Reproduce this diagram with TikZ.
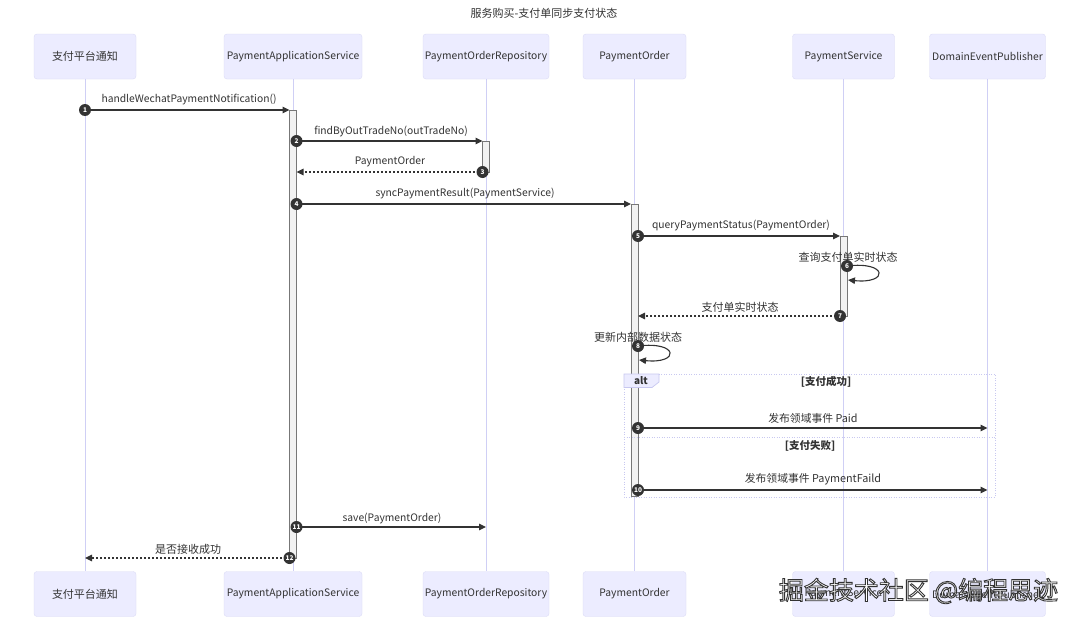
\documentclass[tikz,border=0pt]{standalone}
\usepackage{fontspec}
\setmainfont{Noto Sans CJK SC}
\usetikzlibrary{arrows.meta}
\definecolor{actfill}{HTML}{ECECFF}
\definecolor{actline}{HTML}{DCDCF6}
\definecolor{lifel}{HTML}{CFCFF5}
\definecolor{altline}{HTML}{C8C8F0}
\definecolor{txt}{HTML}{333333}
\definecolor{barfill}{HTML}{F2F2F2}
\definecolor{barline}{HTML}{777777}
\newcommand{\outlinedtext}[1]{\special{pdf:literal 0.2 G 2 Tr 0.9 w}#1\special{pdf:literal 0 Tr}}
\tikzset{
  actor/.style={draw=actline, fill=actfill, rounded corners=3pt, minimum height=45pt,
    text=txt, font=\fontsize{10.3}{13}\selectfont, inner sep=0pt},
  cjk/.style={font=\fontsize{11}{13}\selectfont},
  mixed/.style={font=\fontsize{10.8}{13}\selectfont},
  lifeline/.style={draw=lifel, line width=0.9pt},
  actbar/.style={draw=barline, fill=barfill, line width=0.6pt},
  msg/.style={draw=txt, line width=1.1pt, -{Triangle[length=7pt,width=6.5pt]}},
  reply/.style={msg, dash pattern=on 2pt off 2pt},
  lbl/.style={text=txt, font=\fontsize{10.3}{13}\selectfont, inner sep=0pt},
  seqnum/.style={circle, fill=txt, text=white, inner sep=0pt, minimum size=12pt,
    font=\fontsize{6.5}{7}\selectfont\bfseries},
  altbox/.style={draw=altline, line width=0.9pt, dash pattern=on 1pt off 1.5pt},
  wmark/.style={font=\fontsize{25}{25}\selectfont, inner sep=0pt, text=white},
}
\begin{document}
\begin{tikzpicture}[x=1pt,y=-1pt]
\fill[white] (0,0) rectangle (1080,624);
\useasboundingbox (0,0) rectangle (1080,624);

% title
\node[lbl, cjk] (title) at (544,13.5) {服务购买-支付单同步支付状态};

% participants top
\node[actor, cjk, minimum width=102pt] (t1) at (85,56.5) {支付平台通知};
\node[actor, minimum width=138pt] (t2) at (293,56.5) {PaymentApplicationService};
\node[actor, minimum width=126pt] (t3) at (486,56.5) {PaymentOrderRepository};
\node[actor, minimum width=103pt] (t4) at (634.5,56.5) {PaymentOrder};
\node[actor, minimum width=102pt] (t5) at (843.5,56.5) {PaymentService};
\node[actor, minimum width=116pt] (t6) at (987.5,56.5) {DomainEventPublisher};
% participants bottom
\node[actor, cjk, minimum width=102pt] (b1) at (85,594) {支付平台通知};
\node[actor, minimum width=138pt] (b2) at (293,594) {PaymentApplicationService};
\node[actor, minimum width=126pt] (b3) at (486,594) {PaymentOrderRepository};
\node[actor, minimum width=103pt] (b4) at (634.5,594) {PaymentOrder};
\node[actor, minimum width=102pt] (b5) at (843.5,594) {PaymentService};
\node[actor, minimum width=116pt] (b6) at (987.5,594) {DomainEventPublisher};

% lifelines
\foreach \i in {1,...,6} \draw[lifeline] (t\i.south) -- (b\i.north);

% activation bars
\draw[actbar] (289.5,110) rectangle (296.5,558);
\draw[actbar] (482.5,141) rectangle (489.5,172);
\draw[actbar] (631,204) rectangle (638,496);
\draw[actbar] (840,236) rectangle (847,316);

% alt frame
\draw[altbox] (624,374) rectangle (995,497);
\draw[altbox] (624,437.5) -- (995,437.5);
\draw[draw=altline, fill=actfill, line width=0.7pt] (624,374) -- (659,374) -- (659,382) -- (652,387.5) -- (624,387.5) -- cycle;
\node[lbl, font=\fontsize{10}{12}\selectfont\bfseries] (altlbl) at (641,381) {alt};
\node[lbl, font=\fontsize{10.5}{12}\selectfont\bfseries] (c1) at (826,382) {[支付成功]};
\node[lbl, font=\fontsize{10.5}{12}\selectfont\bfseries] (c2) at (810,446) {[支付失败]};

% endpoints
\coordinate (m1s) at (85,110);     \coordinate (m1e) at (289.5,110);
\coordinate (m2s) at (296.5,141);  \coordinate (m2e) at (482.5,141);
\coordinate (m3s) at (482.5,172);  \coordinate (m3e) at (296.5,172);
\coordinate (m4s) at (296.5,204);  \coordinate (m4e) at (631,204);
\coordinate (m5s) at (638,236);    \coordinate (m5e) at (840,236);
\coordinate (m6s) at (847,266);    \coordinate (m6e) at (848,280);
\coordinate (m7s) at (840,316);    \coordinate (m7e) at (638,316);
\coordinate (m8s) at (638,346);    \coordinate (m8e) at (639,360);
\coordinate (m9s) at (638,428);    \coordinate (m9e) at (987.5,428);
\coordinate (m10s) at (638,490);   \coordinate (m10e) at (987.5,490);
\coordinate (m11s) at (296.5,527); \coordinate (m11e) at (486,527);
\coordinate (m12s) at (289.5,558); \coordinate (m12e) at (85,558);

% messages
\draw[msg] (m1s) -- (m1e);
\draw[msg] (m2s) -- (m2e);
\draw[reply] (m3s) -- (m3e);
\draw[msg] (m4s) -- (m4e);
\draw[msg] (m5s) -- (m5e);
\draw[msg] (m6s) .. controls (888,261) and (889,284) .. (m6e);
\draw[reply] (m7s) -- (m7e);
\draw[msg] (m8s) .. controls (679,341) and (680,364) .. (m8e);
\draw[msg] (m9s) -- (m9e);
\draw[msg] (m10s) -- (m10e);
\draw[msg] (m11s) -- (m11e);
\draw[reply] (m12s) -- (m12e);

% labels
\node[lbl] (l1) at (189,99.5) {handleWechatPaymentNotification()};
\node[lbl] (l2) at (391,131) {findByOutTradeNo(outTradeNo)};
\node[lbl] (l3) at (390,162) {PaymentOrder};
\node[lbl] (l4) at (465,193.5) {syncPaymentResult(PaymentService)};
\node[lbl] (l5) at (741,225.5) {queryPaymentStatus(PaymentOrder)};
\node[lbl, cjk] (l6) at (848,257) {查询支付单实时状态};
\node[lbl, cjk] (l7) at (740,307) {支付单实时状态};
\node[lbl, cjk] (l8) at (638,337) {更新内部数据状态};
\node[lbl, mixed] (l9) at (813,418) {发布领域事件 Paid};
\node[lbl, mixed] (l10) at (813,479) {发布领域事件 PaymentFaild};
\node[lbl] (l11) at (392,518.5) {save(PaymentOrder)};
\node[lbl, cjk] (l12) at (188,549) {是否接收成功};

% sequence numbers
\node[seqnum] (n1) at (m1s) {1};
\node[seqnum] (n2) at (m2s) {2};
\node[seqnum] (n3) at (m3s) {3};
\node[seqnum] (n4) at (m4s) {4};
\node[seqnum] (n5) at (m5s) {5};
\node[seqnum] (n6) at (m6s) {6};
\node[seqnum] (n7) at (m7s) {7};
\node[seqnum] (n8) at (m8s) {8};
\node[seqnum] (n9) at (m9s) {9};
\node[seqnum] (n10) at (m10s) {10};
\node[seqnum] (n11) at (m11s) {11};
\node[seqnum] (n12) at (m12s) {12};

% watermark
\node[wmark] (wm) at (918.5,591) {\outlinedtext{掘金技术社区 @编程思迹}};
\end{tikzpicture}
\end{document}
